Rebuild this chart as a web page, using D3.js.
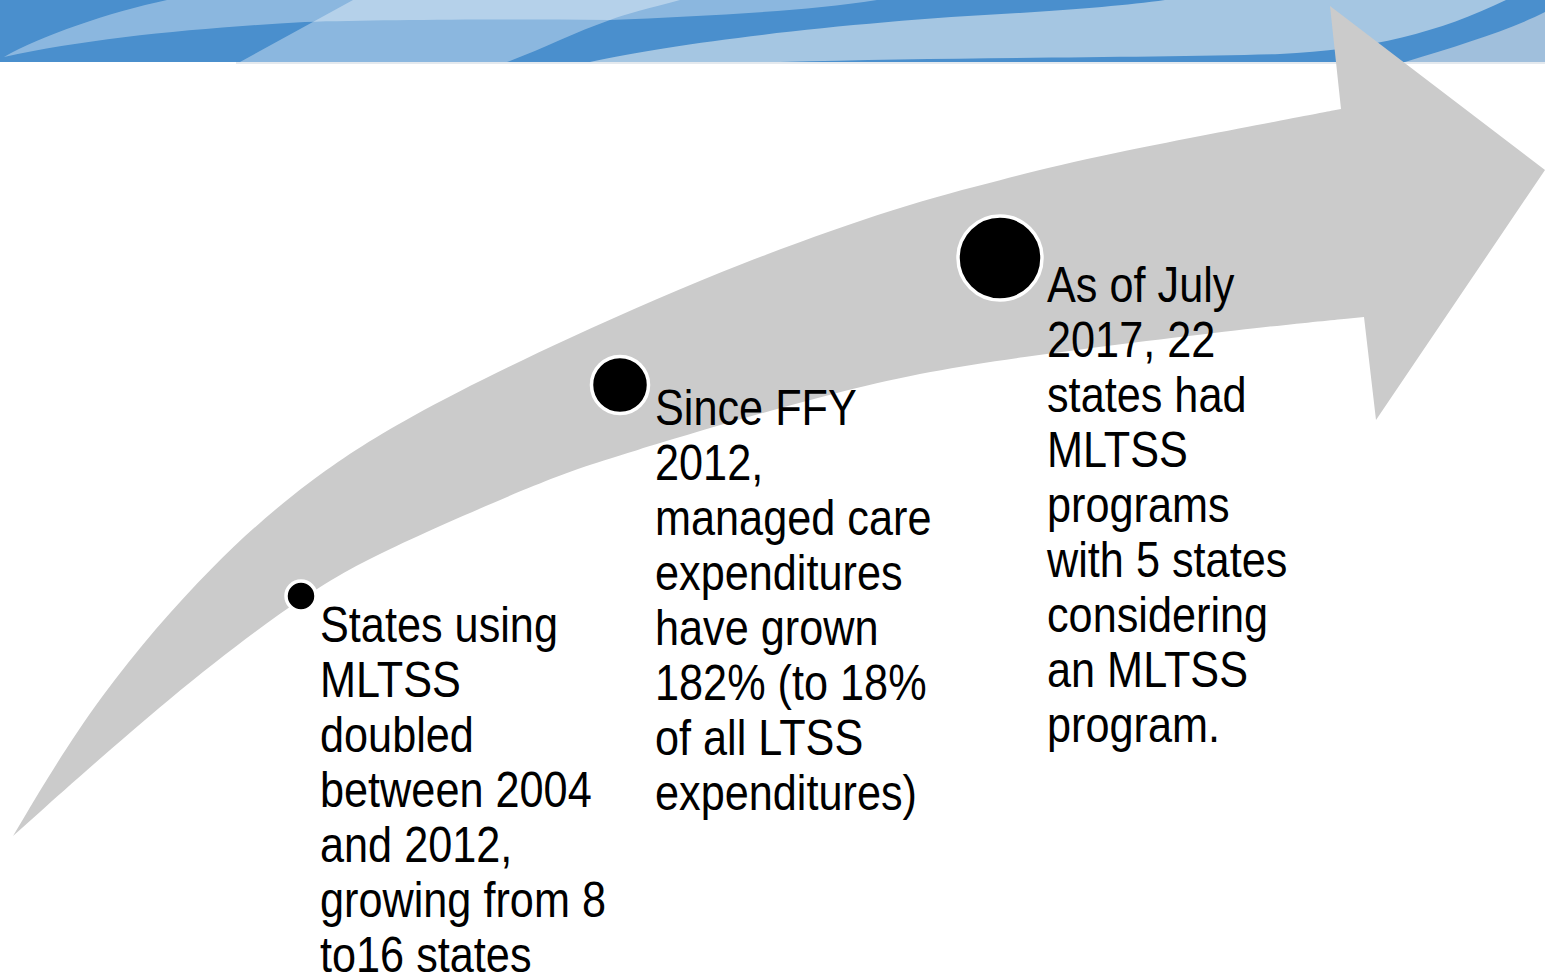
<!DOCTYPE html>
<html>
<head>
<meta charset="utf-8">
<script src="https://cdn.jsdelivr.net/npm/d3@7"></script>
<style>
  html, body { margin: 0; padding: 0; background: #ffffff; overflow: hidden; }
  svg { display: block; }
</style>
</head>
<body>
<svg id="chart" width="1545" height="974"></svg>
<script>
// ---------------- data ----------------
const milestoneIds = ["m1", "m2", "m3"];
const milestoneWeight = [1, 2, 3];
const milestoneLines = [
  ["States using", "MLTSS", "doubled", "between 2004", "and 2012,", "growing from 8", "to16 states"],
  ["Since FFY", "2012,", "managed care", "expenditures", "have grown", "182% (to 18%", "of all LTSS", "expenditures)"],
  ["As of July", "2017, 22", "states had", "MLTSS", "programs", "with 5 states", "considering", "an MLTSS", "program."]
];

// ---------------- layout (geometry, not data) ----------------
const W = 1545, H = 974;
const svg = d3.select("#chart");

// banner
const banner = svg.append("g");
banner.append("rect").attr("x", 0).attr("y", 0).attr("width", W).attr("height", 62).attr("fill", "#4a8fcd");
banner.append("rect").attr("x", 236).attr("y", 62).attr("width", W - 236).attr("height", 2).attr("fill", "#e4e9ee");
banner.append("path")
  .attr("d", "M590,62 C680,42 850,22 1020,13 C1080,9 1130,5 1165,0 L1506,0 C1440,32 1370,50 1280,54 C1150,58 950,57 780,62 Z")
  .attr("fill", "#a5c6e2");
banner.append("path")
  .attr("d", "M1405,62 C1460,45 1510,30 1545,12 L1545,62 Z")
  .attr("fill", "#a0bfdc");
banner.append("path")
  .attr("d", "M4,57 C40,36 110,12 167,0 L877,0 C800,12 700,16 610,20 C480,19 380,20 305,22 C200,28 90,38 4,57 Z")
  .attr("fill", "rgba(255,255,255,0.36)");
banner.append("path")
  .attr("d", "M240,62 L353,0 L680,0 C650,8 625,14 610,20 C575,32 545,48 507,62 Z")
  .attr("fill", "rgba(255,255,255,0.36)");

// arrow geometry
const upperEdge = [[13,836],[97,695],[215,560],[309,480],[400,420],[568,337],[747,260],[900,206],[1000,180],[1100,155],[1300,117],[1341,109]];
const lowerEdge = [[13,836],[173,693],[313,587],[400,543],[550,478],[603,460],[860,383],[1007,358],[1260,327],[1364,317]];
const head = [[1330,6],[1545,170],[1376,420]];

const edgeLine = d3.line().curve(d3.curveBasis);
const upperPath = edgeLine(upperEdge);
const lowerPath = edgeLine(lowerEdge.slice().reverse()).replace(/^M/, "L");
const headPath = head.map(p => "L" + p[0] + "," + p[1]).join("");
svg.append("path")
  .attr("d", upperPath + headPath + lowerPath + "Z")
  .attr("fill", "#cbcbcb");

// milestones
const cx = d3.scaleOrdinal().domain(milestoneIds).range([301, 620, 1000]);
const cy = d3.scaleOrdinal().domain(milestoneIds).range([596, 385, 258]);
const rScale = d3.scaleLinear().domain([1, 3]).range([15, 42]);

const ms = svg.selectAll("g.ms").data(milestoneIds).join("g").attr("class", "ms");
ms.append("circle")
  .attr("cx", d => cx(d))
  .attr("cy", d => cy(d))
  .attr("r", (d, i) => rScale(milestoneWeight[i]))
  .attr("fill", "#000")
  .attr("stroke", "#fff")
  .attr("stroke-width", 3.5);

const textX = d3.scaleOrdinal().domain(milestoneIds).range([320, 655, 1047]);
const textY = d3.scaleOrdinal().domain(milestoneIds).range([642, 425, 302]);
const lineH = 55;

ms.append("g")
  .attr("transform", d => `translate(${textX(d)},${textY(d)}) scale(0.865,1)`)
  .each(function(d, i) {
    d3.select(this).selectAll("text").data(milestoneLines[i]).join("text")
      .attr("x", 0)
      .attr("y", (t, j) => j * lineH)
      .attr("font-family", "'Liberation Sans', Arial, sans-serif")
      .attr("font-size", 50)
      .attr("fill", "#000")
      .text(t => t);
  });
</script>
</body>
</html>
